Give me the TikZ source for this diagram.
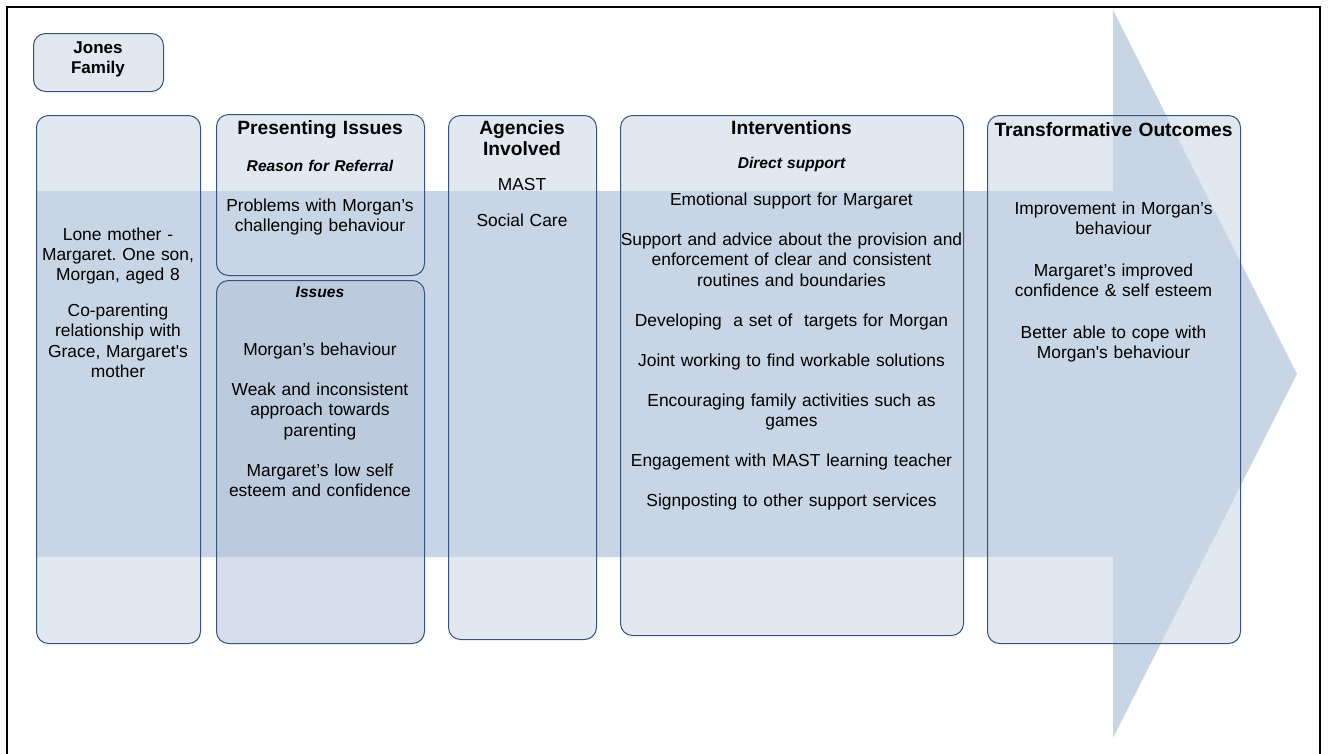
\documentclass[tikz,border=0pt]{standalone}
\usepackage{fontspec}
\setmainfont{Liberation Sans}
\frenchspacing
\definecolor{arrowc}{RGB}{200,213,228}
\definecolor{issuec}{RGB}{178,195,216}
\definecolor{edgec}{RGB}{55,84,128}
\begin{document}
\frenchspacing
\begin{tikzpicture}[x=1pt,y=-1pt,
  box/.style={draw=edgec, line width=1pt, rounded corners=12pt, fill=arrowc, fill opacity=0.55, anchor=north west, inner sep=0pt},
  issuebox/.style={box, fill=issuec},
  txt/.style={anchor=base, inner sep=0pt, align=center, text width=400pt},
  body/.style={txt, font=\fontsize{17.4}{20.4}\selectfont\frenchspacing},
  head/.style={txt, font=\fontsize{19.2}{21.5}\selectfont\bfseries},
  sub/.style={txt, font=\fontsize{15.6}{18}\selectfont\bfseries\itshape},
  jonesf/.style={txt, font=\fontsize{17}{20}\selectfont\bfseries}]
\useasboundingbox (0,0) rectangle (1328,753);
% frame
\draw[line width=2.2pt] (7,770) -- (7,7) -- (1320,7) -- (1320,770);
% big arrow
\fill[arrowc] (36,191) -- (1113,191) -- (1113,10) -- (1297,374) -- (1113,738) -- (1113,557) -- (36,557) -- cycle;
% boxes
\node[box, minimum width=130pt, minimum height=58pt] (jones) at (33,33) {};
\node[box, minimum width=164pt, minimum height=528pt] (family) at (36,115) {};
\node[box, minimum width=208pt, minimum height=161pt] (presenting) at (216,114) {};
\node[issuebox, minimum width=208pt, minimum height=363pt] (issues) at (216,280) {};
\node[box, minimum width=148pt, minimum height=524pt] (agencies) at (448,115) {};
\node[box, minimum width=343pt, minimum height=520pt] (interventions) at (620,115) {};
\node[box, minimum width=253pt, minimum height=528pt] (outcomes) at (987,115) {};
% texts
\node[jonesf] (jonest) at (98,53) {Jones\\Family};
\node[body] (familyt) at (118,240) {Lone mother -\\Margaret. One son,\\Morgan, aged 8\\[15pt]Co-parenting\\relationship with\\Grace, Margaret\textquotesingle s\\mother};
\node[head] (presh) at (320,134.5) {Presenting Issues};
\node[sub] (pressub) at (320,171.7) {Reason for Referral};
\node[body] (prest) at (320,211.5) {Problems with Morgan’s\\challenging behaviour};
\node[sub] (issh) at (320,297.7) {Issues};
\node[body] (isst) at (320,355.5) {Morgan’s behaviour\\[19.6pt]Weak and inconsistent\\approach towards\\parenting\\[19.6pt]Margaret’s low self\\esteem and confidence};
\node[head] (agh) at (522,134) {Agencies\\Involved};
\node[body] (agt) at (522,190.5) {MAST\\[15.6pt]Social Care};
\node[head] (inth) at (791.5,134) {Interventions};
\node[sub] (intsub) at (791.5,168.7) {Direct support};
\node[body] (intt) at (791.5,205.5) {Emotional support for Margaret\\[19.6pt]Support and advice about the provision and\\enforcement of clear and consistent\\routines and boundaries\\[19.6pt]Developing\ \ a set of\ \ targets for Morgan\\[19.6pt]Joint working to find workable solutions\\[19.6pt]Encouraging family activities such as\\games\\[19.6pt]Engagement with MAST learning teacher\\[19.6pt]Signposting to other support services};
\node[head] (outh) at (1113.5,136) {Transformative Outcomes};
\node[body] (outt) at (1113.5,214.5) {Improvement in Morgan’s\\behaviour\\[21pt]Margaret’s improved\\confidence \& self esteem\\[21pt]Better able to cope with\\Morgan\textquotesingle s behaviour};
\end{tikzpicture}
\end{document}
